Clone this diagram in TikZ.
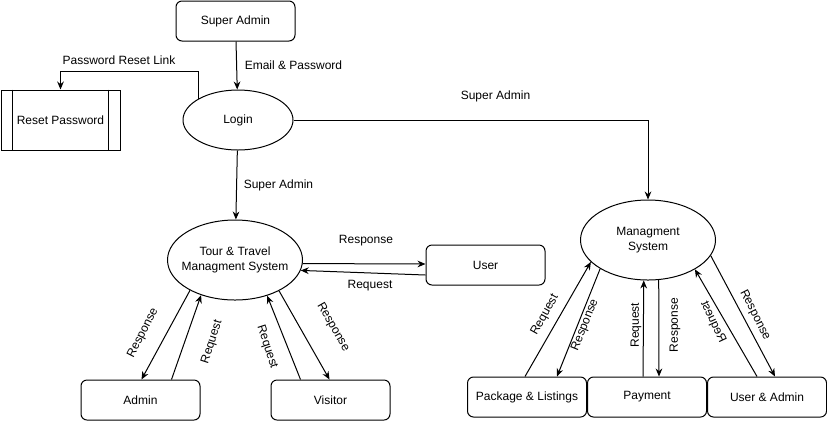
\documentclass[tikz,border=0pt]{standalone}
\usepackage{fontspec}
\setmainfont{Liberation Sans}
\usetikzlibrary{shapes.geometric,arrows.meta}

\begin{document}
\begin{tikzpicture}[x=0.75pt,y=-0.75pt,font=\fontsize{9}{11}\selectfont,line width=0.75pt,
	>={Stealth[length=6pt,width=5pt]},
	box/.style={draw,rounded corners=4.5pt,minimum width=89.25pt,minimum height=30pt,inner sep=0},
	proc/.style={ellipse,draw,minimum width=101.25pt,minimum height=60pt,inner sep=0,inner xsep=-15pt,align=center}]
	\useasboundingbox (0,0) rectangle (827,430);
	% entities and processes
	\node[box] (super) at (235.5,21) {Super Admin};
	\node[draw,minimum width=89.25pt,minimum height=45pt,inner sep=0] (reset) at (60.5,120) {Reset Password};
	\draw ([xshift=9pt]reset.north west) -- ([xshift=9pt]reset.south west);
	\draw ([xshift=-9pt]reset.north east) -- ([xshift=-9pt]reset.south east);
	\node[proc,minimum width=82.5pt,minimum height=45pt,inner xsep=0] (login) at (238,120) {Login};
	\node[proc] (tour) at (235,260) {Tour \& Travel\\Managment System};
	\node[proc] (mgmt) at (648,240) {Managment\\System};
	\node[box] (user) at (485.5,265) {User};
	\node[box] (admin) at (140.5,400) {Admin};
	\node[box] (visitor) at (330.5,400) {Visitor};
	\node[box] (pkg) at (527,397) {Package \& Listings};
	\node[box] (pay) at (647,397) {Payment};
	\node[box] (ua) at (767,397) {User \& Admin};
	% flows
	\draw[->] (super) -- (login);
	\draw[->] (login.152) -- ++(0,-27) -| (reset.north);
	\draw[->] (login) -- (tour);
	\draw[->] (login.east) -| (mgmt.north);
	\draw[->] (tour.-3) -- ([yshift=0.75pt]user.west);
	\draw[->] ([yshift=-7.5pt]user.west) -- (tour.-9);
	\draw[->] (tour.214) -- ([xshift=0.75pt]admin.north);
	\draw[->] ([xshift=23.25pt]admin.north) -- (tour.-134);
	\draw[->] ([xshift=-22.5pt]visitor.north) -- (tour.-48);
	\draw[->] (tour.-35) -- ([xshift=-0.75pt]visitor.north);
	\draw[->] ([xshift=-1.5pt]pkg.north) -- (mgmt.-159);
	\draw[->] (mgmt.-149) -- ([xshift=22.5pt]pkg.north);
	\draw[->] ([xshift=-3pt]pay.north) -- (mgmt.-96);
	\draw[->] (mgmt.-75) -- ([xshift=9pt]pay.north);
	\draw[->] ([xshift=-7.5pt]ua.north) -- (mgmt.-32);
	\draw[->] (mgmt.-14) -- ([xshift=6pt]ua.north);
	% labels
	\node (lEmail) at (293.5,65) {Email \& Password};
	\node (lLink) at (119,60) {Password Reset Link};
	\node (lSaTour) at (278.5,185) {Super Admin};
	\node (lSaMgmt) at (495.5,96) {Super Admin};
	\node (lResUser) at (366,241) {Response};
	\node (lReqUser) at (370,286) {Request};
	\node[rotate=63] (lResAdmin) at (143,333) {Response};
	\node[rotate=72] (lReqAdmin) at (212,342) {Request};
	\node[rotate=-72] (lReqVis) at (267,347) {Request};
	\node[rotate=-60] (lResVis) at (333,327) {Response};
	\node[rotate=61] (lReqPkg) at (545,315) {Request};
	\node[rotate=68] (lResPkg) at (585,325) {Response};
	\node[rotate=90] (lReqPay) at (636,325) {Request};
	\node[rotate=90] (lResPay) at (675,325) {Response};
	\node[rotate=-65,xscale=-1] (lReqUa) at (713,322) {Request};
	\node[rotate=-63] (lResUa) at (755,315) {Response};
\end{tikzpicture}
\end{document}
